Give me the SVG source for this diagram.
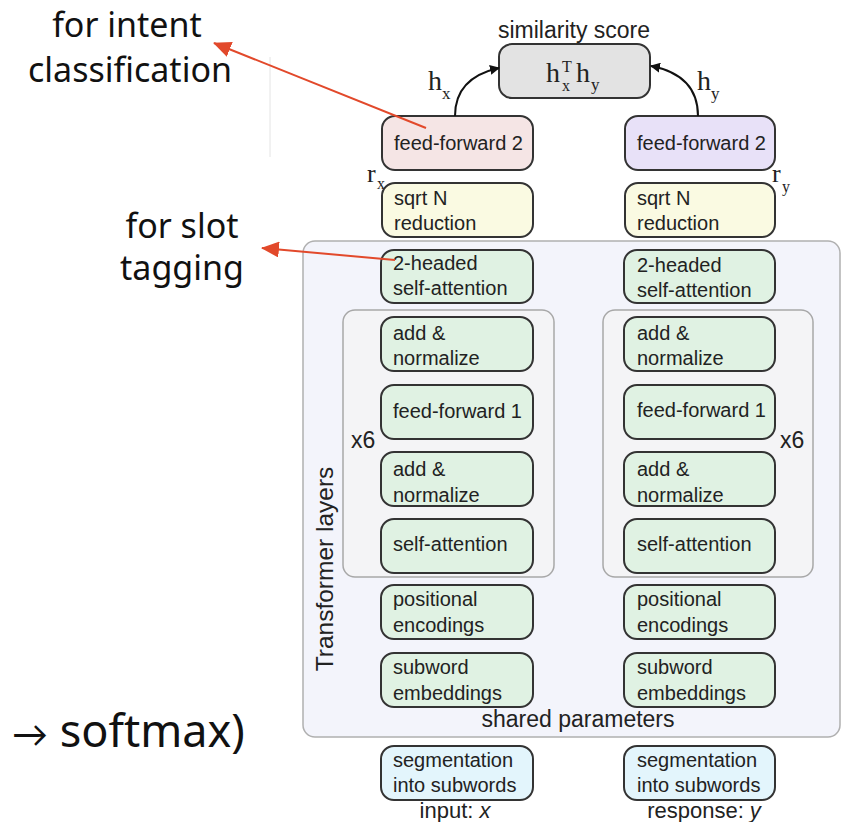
<svg xmlns="http://www.w3.org/2000/svg" width="843" height="822" viewBox="0 0 843 822">
<defs>
<marker id="blk" markerWidth="10" markerHeight="10" refX="9" refY="5" orient="auto" markerUnits="userSpaceOnUse" viewBox="0 0 10 10"><path d="M0,0 L10,5 L0,10 z" fill="#111"/></marker>
<marker id="red" markerWidth="18" markerHeight="16" refX="17" refY="8" orient="auto" markerUnits="userSpaceOnUse" viewBox="0 0 18 16"><path d="M0,0 L18,8 L0,16 z" fill="#e2492b"/></marker>
<style>
.t{font-family:"Liberation Sans",Arial,sans-serif;font-size:20px;fill:#222}
.l{font-family:"Liberation Sans",Arial,sans-serif;font-size:23px;fill:#222}
.s{font-family:"Liberation Serif","Times New Roman",serif;fill:#222}
.a{font-family:"Noto Sans","Open Sans",sans-serif;font-size:34px;fill:#111}
.box{stroke:#333;stroke-width:2}
.g{fill:#e0f2e3}
.grp{fill:#f4f4f6;stroke:#a8a8a8;stroke-width:1.5}
.con{fill:none;stroke:#111;stroke-width:2}
.rl{stroke:#e2492b;stroke-width:2;fill:none}
</style>
</defs>
<line x1="270" y1="57" x2="270" y2="157" stroke="#e4e4e4" stroke-width="1"/>
<g id="shared">
<rect x="303" y="241" width="537" height="496" rx="12" fill="#f3f4fb" stroke="#b0b0b0" stroke-width="1.5"/>
<text class="l" x="578" y="727" text-anchor="middle">shared parameters</text>
<text class="l" style="font-size:24.5px" transform="translate(333,569) rotate(-90)" text-anchor="middle">Transformer layers</text>
</g>
<g id="groupL"><rect class="grp" x="343" y="310" width="211" height="267" rx="12"/><text class="l" x="351" y="448">x6</text></g>
<g id="groupR"><rect class="grp" x="603" y="310" width="210" height="267" rx="12"/><text class="l" x="780" y="448">x6</text></g>

<g id="sim">
<text class="l" x="574" y="38" text-anchor="middle">similarity score</text>
<rect class="box" x="499" y="44" width="151" height="54" rx="13" fill="#e3e3e3"/>
<text class="s" x="546" y="82" font-size="28">h</text>
<text class="s" x="562" y="72" font-size="16">T</text>
<text class="s" x="562" y="91" font-size="16">x</text>
<text class="s" x="576" y="82" font-size="28">h</text>
<text class="s" x="591" y="90" font-size="17">y</text>
</g>
<g id="hxlabel"><text class="s" x="428" y="90" font-size="28">h</text><text class="s" x="442" y="99" font-size="17">x</text></g>
<g id="hylabel"><text class="s" x="697" y="90" font-size="28">h</text><text class="s" x="711" y="99" font-size="17">y</text></g>

<g id="ff2L"><rect class="box" x="382" y="116" width="151" height="54" rx="13" fill="#f5e5e5"/><text class="t" x="394" y="150">feed-forward 2</text></g>
<g id="ff2R"><rect class="box" x="625" y="116" width="150" height="54" rx="13" fill="#e8e1f8"/><text class="t" x="637" y="150">feed-forward 2</text></g>
<g id="rx"><text class="s" x="367" y="182" font-size="26">r</text><text class="s" x="377" y="189" font-size="16">x</text></g>
<g id="ry"><text class="s" x="772" y="182" font-size="26">r</text><text class="s" x="782" y="192" font-size="16">y</text></g>

<g id="sqrtL"><rect class="box" x="382" y="183" width="151" height="54" rx="13" fill="#fafae2"/><text class="t" x="394" y="205">sqrt N</text><text class="t" x="394" y="230">reduction</text></g>
<g id="sqrtR"><rect class="box" x="625" y="183" width="150" height="54" rx="13" fill="#fafae2"/><text class="t" x="637" y="205">sqrt N</text><text class="t" x="637" y="230">reduction</text></g>

<g id="mhL"><rect class="box g" x="381" y="250" width="152" height="53" rx="13"/><text class="t" x="393" y="270">2-headed</text><text class="t" x="393" y="295">self-attention</text></g>
<g id="mhR"><rect class="box g" x="624" y="250" width="151" height="53" rx="13"/><text class="t" x="637" y="272">2-headed</text><text class="t" x="637" y="297">self-attention</text></g>

<g id="an1L"><rect class="box g" x="381" y="317" width="152" height="54" rx="13"/><text class="t" x="393" y="340">add &amp;</text><text class="t" x="393" y="365">normalize</text></g>
<g id="an1R"><rect class="box g" x="624" y="317" width="151" height="54" rx="13"/><text class="t" x="637" y="340">add &amp;</text><text class="t" x="637" y="365">normalize</text></g>
<g id="ff1L"><rect class="box g" x="381" y="385" width="152" height="54" rx="13"/><text class="t" x="393" y="418">feed-forward 1</text></g>
<g id="ff1R"><rect class="box g" x="624" y="385" width="151" height="54" rx="13"/><text class="t" x="637" y="417">feed-forward 1</text></g>
<g id="an2L"><rect class="box g" x="381" y="452" width="152" height="54" rx="13"/><text class="t" x="393" y="476">add &amp;</text><text class="t" x="393" y="502">normalize</text></g>
<g id="an2R"><rect class="box g" x="624" y="452" width="151" height="54" rx="13"/><text class="t" x="637" y="476">add &amp;</text><text class="t" x="637" y="502">normalize</text></g>
<g id="saL"><rect class="box g" x="381" y="519" width="152" height="54" rx="13"/><text class="t" x="393" y="551">self-attention</text></g>
<g id="saR"><rect class="box g" x="624" y="519" width="151" height="54" rx="13"/><text class="t" x="637" y="551">self-attention</text></g>

<g id="peL"><rect class="box g" x="381" y="585" width="152" height="54" rx="13"/><text class="t" x="393" y="606">positional</text><text class="t" x="393" y="632">encodings</text></g>
<g id="peR"><rect class="box g" x="624" y="585" width="151" height="54" rx="13"/><text class="t" x="637" y="606">positional</text><text class="t" x="637" y="632">encodings</text></g>
<g id="seL"><rect class="box g" x="381" y="653" width="152" height="54" rx="13"/><text class="t" x="393" y="674">subword</text><text class="t" x="393" y="700">embeddings</text></g>
<g id="seR"><rect class="box g" x="624" y="653" width="151" height="54" rx="13"/><text class="t" x="637" y="674">subword</text><text class="t" x="637" y="700">embeddings</text></g>

<g id="segL"><rect class="box" x="381" y="746" width="152" height="54" rx="13" fill="#e3f5fc"/><text class="t" x="393" y="767">segmentation</text><text class="t" x="393" y="792">into subwords</text></g>
<g id="segR"><rect class="box" x="624" y="746" width="151" height="54" rx="13" fill="#e3f5fc"/><text class="t" x="637" y="767">segmentation</text><text class="t" x="637" y="792">into subwords</text></g>
<text class="l" style="font-size:22px" x="455" y="818" text-anchor="middle">input: <tspan font-style="italic">x</tspan></text>
<text class="l" style="font-size:22px" x="704" y="818" text-anchor="middle">response: <tspan font-style="italic">y</tspan></text>

<g id="annotations">
<text class="a" x="127" y="37" text-anchor="middle">for intent</text>
<text class="a" x="130" y="82" text-anchor="middle">classification</text>
<text class="a" x="182" y="238" text-anchor="middle">for slot</text>
<text class="a" x="182" y="280" text-anchor="middle">tagging</text>
<text class="a" x="12" y="747" style="font-size:45px"><tspan style="font-family:Lato,sans-serif;font-size:36px">→</tspan> softmax)</text>
</g>

<g id="connectors">
<path class="con" d="M455,116 C455,88 472,74 499,68" marker-end="url(#blk)"/>
<path class="con" d="M698,116 C698,88 682,72 651,66" marker-end="url(#blk)"/>
<line class="rl" x1="426" y1="128" x2="214" y2="43" marker-end="url(#red)"/>
<line class="rl" x1="395" y1="260" x2="262" y2="248" marker-end="url(#red)"/>
</g>
</svg>
